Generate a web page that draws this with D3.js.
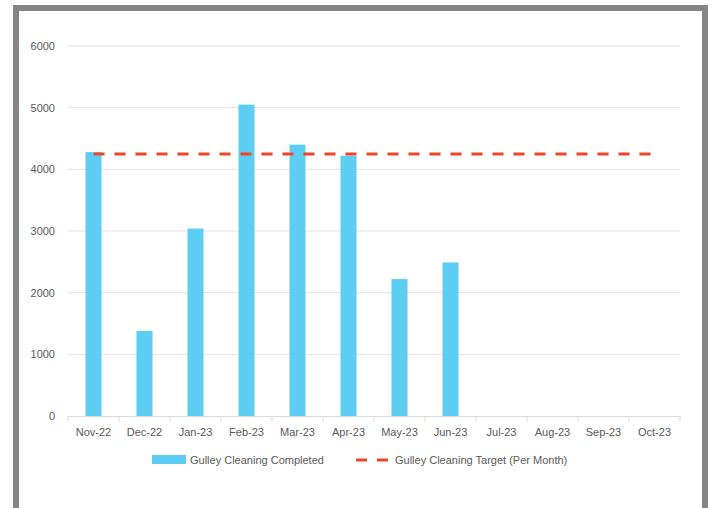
<!DOCTYPE html>
<html>
<head>
<meta charset="utf-8">
<script src="https://cdnjs.cloudflare.com/ajax/libs/d3/7.8.5/d3.min.js"></script>
<style>
  body { margin: 0; background: #fff; }
  svg { display: block; font-family: "Liberation Sans", Arial, sans-serif; }
  .tick text { fill: #595959; font-size: 11px; }
</style>
</head>
<body>
<svg id="chart" width="714" height="508"></svg>
<script>
// data
const months = ["Nov-22", "Dec-22", "Jan-23", "Feb-23", "Mar-23", "Apr-23",
                "May-23", "Jun-23", "Jul-23", "Aug-23", "Sep-23", "Oct-23"];
const completed = [4280, 1380, 3040, 5050, 4400, 4220, 2220, 2490, null, null, null, null];
const target = [4250, 4250, 4250, 4250, 4250, 4250, 4250, 4250, 4250, 4250, 4250, 4250];
const yTicks = [0, 1000, 2000, 3000, 4000, 5000, 6000];

const svg = d3.select("#chart");
const margin = {left: 68, right: 34, top: 46, bottom: 92};
const W = 714, H = 508;

// outer frame
svg.append("rect")
  .attr("x", 16).attr("y", 8)
  .attr("width", 689).attr("height", 520)
  .attr("fill", "none")
  .attr("stroke", "#858585")
  .attr("stroke-width", 6);

const x = d3.scaleBand().domain(months).range([margin.left, W - margin.right]);
const y = d3.scaleLinear().domain([0, 6000]).range([H - margin.bottom, margin.top]);

// gridlines
svg.append("g")
  .selectAll("line")
  .data(yTicks.filter(d => d > 0))
  .enter().append("line")
  .attr("x1", margin.left).attr("x2", W - margin.right)
  .attr("y1", d => y(d)).attr("y2", d => y(d))
  .attr("stroke", "#e3e3e3").attr("stroke-width", 1);

// y axis labels
const yAxis = svg.append("g")
  .attr("transform", "translate(" + margin.left + ",0)")
  .call(d3.axisLeft(y).tickValues(yTicks).tickFormat(d3.format("d")).tickSize(0).tickPadding(13));
yAxis.select(".domain").remove();

// x axis
const xAxis = svg.append("g")
  .attr("transform", "translate(0," + y(0) + ")")
  .call(d3.axisBottom(x).tickSize(0).tickPadding(12));
xAxis.select(".domain").attr("stroke", "#d9d9d9");
svg.append("g")
  .selectAll("line")
  .data(d3.range(months.length + 1))
  .enter().append("line")
  .attr("x1", i => margin.left + i * x.step()).attr("x2", i => margin.left + i * x.step())
  .attr("y1", y(0)).attr("y2", y(0) + 5)
  .attr("stroke", "#d9d9d9");

// bars
const barW = 16;
svg.append("g")
  .selectAll("rect")
  .data(months.map((m, i) => ({m: m, v: completed[i]})).filter(d => d.v != null))
  .enter().append("rect")
  .attr("x", d => x(d.m) + x.bandwidth() / 2 - barW / 2)
  .attr("width", barW)
  .attr("y", d => y(d.v))
  .attr("height", d => y(0) - y(d.v))
  .attr("fill", "#5ecdf4");

// target line
const line = d3.line()
  .x((d, i) => x(months[i]) + x.bandwidth() / 2)
  .y(d => y(d));
svg.append("path")
  .datum(target)
  .attr("d", line)
  .attr("fill", "none")
  .attr("stroke", "#ef4629")
  .attr("stroke-width", 3)
  .attr("stroke-dasharray", "11,10");

// legend
const lg = svg.append("g").attr("font-size", 11).attr("fill", "#595959");
lg.append("rect").attr("x", 152).attr("y", 455).attr("width", 34).attr("height", 9).attr("fill", "#5ecdf4");
lg.append("text").attr("x", 190).attr("y", 464).text("Gulley Cleaning Completed");
lg.append("line")
  .attr("x1", 356).attr("x2", 388).attr("y1", 460).attr("y2", 460)
  .attr("stroke", "#ef4629").attr("stroke-width", 3)
  .attr("stroke-dasharray", "11,10");
lg.append("text").attr("x", 395).attr("y", 464).text("Gulley Cleaning Target (Per Month)");
</script>
</body>
</html>
